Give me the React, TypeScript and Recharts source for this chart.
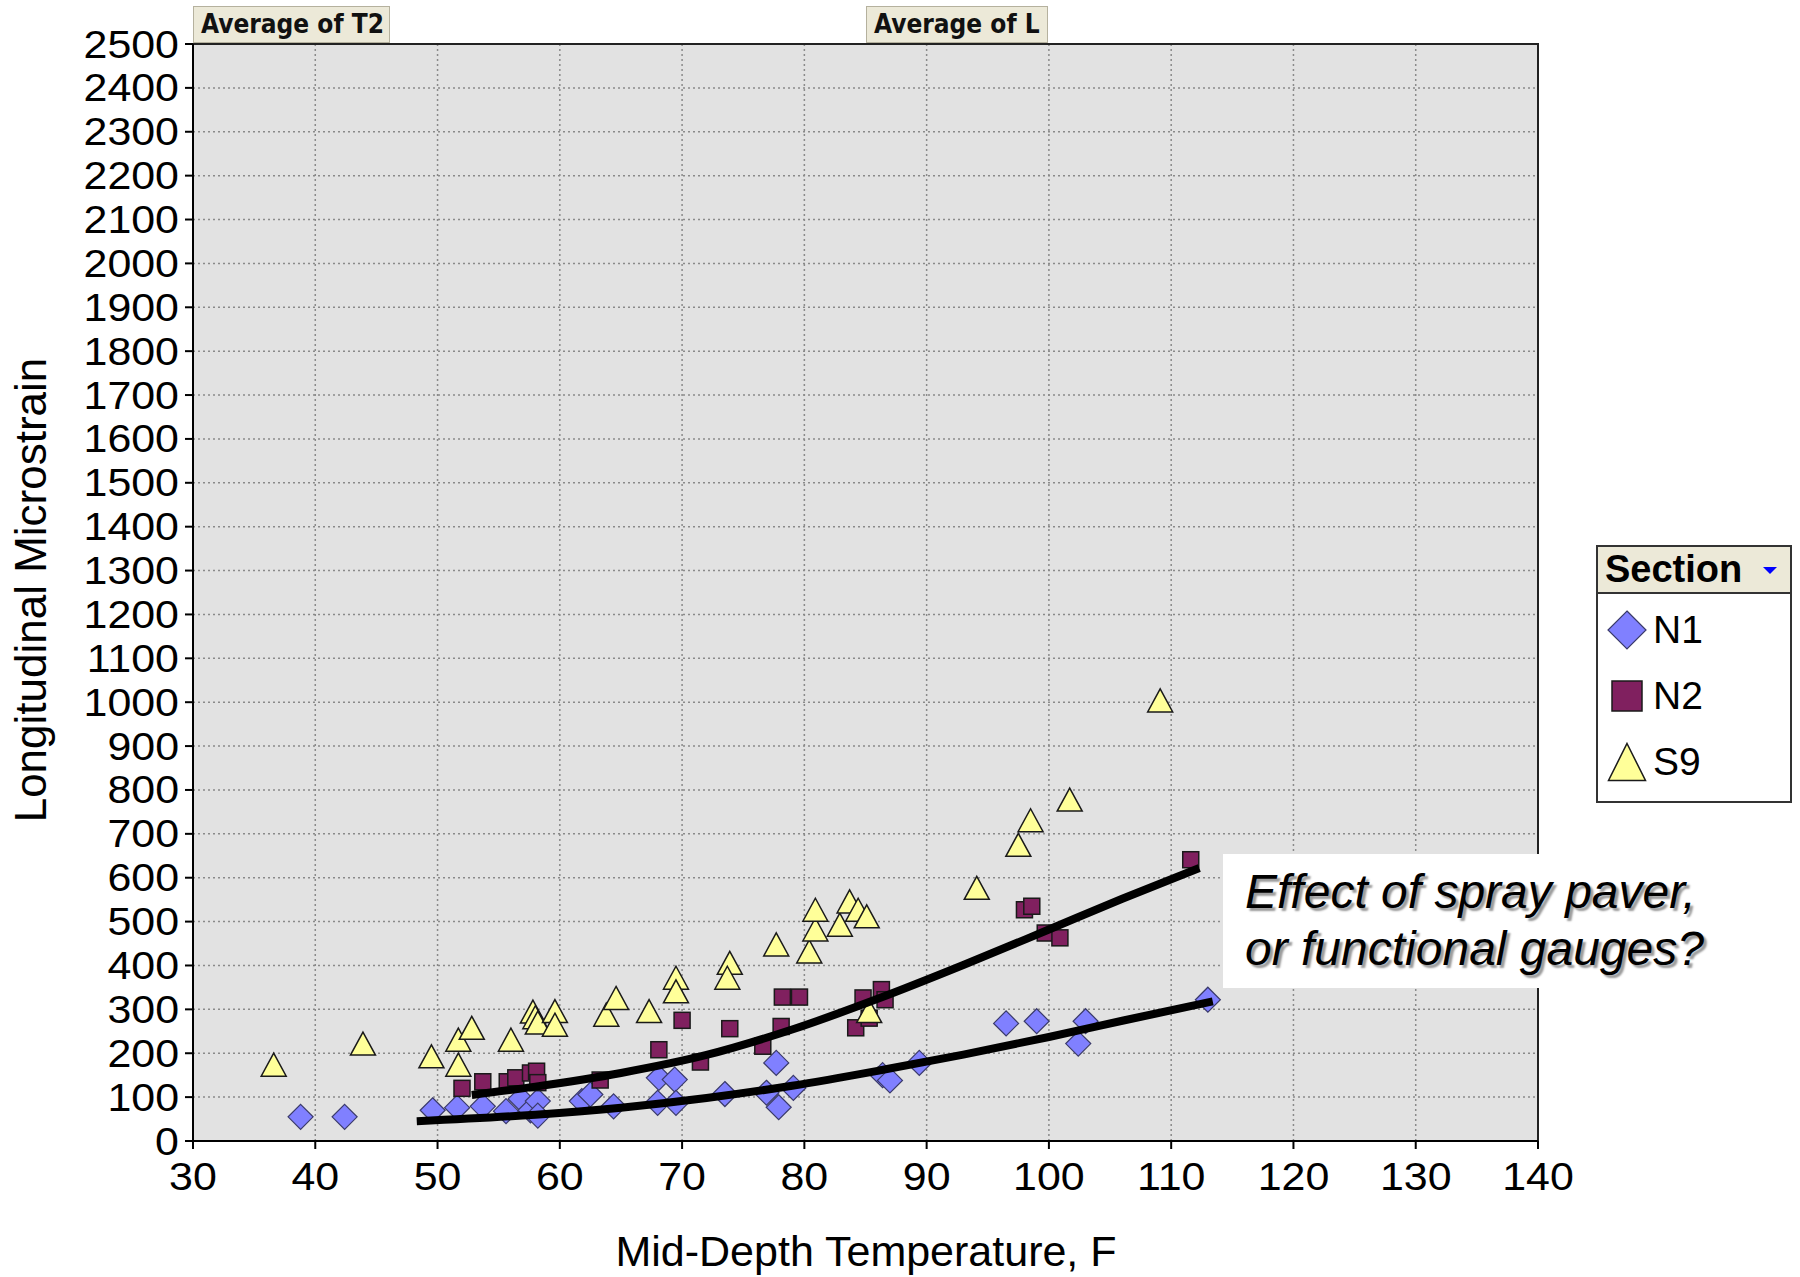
import React from "react";
import {
  ScatterChart,
  Scatter,
  XAxis,
  YAxis,
  CartesianGrid,
  ReferenceArea,
  Legend,
} from "recharts";

// values: temperature (F) / longitudinal microstrain
const N1_TEMP = [38.8, 42.4, 49.6, 51.6, 53.7, 55.6, 56.8, 57.6, 58.2, 58.2, 61.8, 62.5, 64.4, 68.1, 69.4, 68.0, 69.5, 73.5, 76.9, 77.7, 77.9, 79.1, 86.4, 87.0, 89.4, 96.5, 99.0, 103.0, 102.4, 113.0];
const N1_STRAIN = [55, 55, 70, 76, 79, 68, 96, 70, 91, 58, 91, 106, 79, 144, 140, 87, 87, 107, 110, 178, 77, 121, 150, 138, 178, 268, 273, 273, 222, 322];

const N2_TEMP = [52.0, 53.7, 55.7, 56.4, 57.6, 58.1, 58.2, 63.3, 68.1, 70.0, 71.5, 73.9, 76.6, 78.1, 78.2, 79.6, 84.2, 84.8, 85.3, 86.3, 86.6, 98.0, 98.6, 99.7, 100.9, 111.6];
const N2_STRAIN = [120, 135, 135, 144, 155, 159, 133, 139, 208, 275, 180, 256, 216, 261, 328, 328, 258, 326, 280, 345, 322, 527, 535, 474, 463, 641];

const S9_TEMP = [36.6, 43.9, 49.5, 51.7, 51.7, 52.8, 56.0, 57.8, 58.0, 58.2, 59.6, 59.6, 63.8, 64.6, 67.3, 69.5, 69.5, 73.9, 73.7, 77.7, 80.4, 80.9, 80.9, 82.9, 83.7, 84.4, 85.1, 85.3, 94.1, 97.5, 98.5, 101.7, 109.1];
const S9_STRAIN = [174, 222, 193, 174, 231, 258, 231, 295, 282, 270, 296, 265, 288, 326, 296, 372, 341, 406, 372, 448, 432, 482, 527, 493, 546, 527, 512, 296, 577, 675, 731, 778, 1004];

// hand-drawn trend curves
const UPPER_TEMP = [52.8, 58, 65, 72, 79, 86, 93, 100, 106, 112.3];
const UPPER_STRAIN = [105, 124, 155, 196, 254, 324, 401, 482, 552, 622];
const LOWER_TEMP = [48.3, 58, 65, 72, 79, 86, 93, 100, 106, 113.4];
const LOWER_STRAIN = [45, 60, 76, 98, 126, 160, 197, 237, 274, 318];

const X_TICKS = [30, 40, 50, 60, 70, 80, 90, 100, 110, 120, 130, 140];
const Y_TICKS = Array.from({ length: 26 }, (_, i) => i * 100);

const SERIES = ["N1", "N2", "S9"];
const N1_FILL = "#8080FF";
const N2_FILL = "#80205F";
const S9_FILL = "#FFFF99";

const FONT = "'Liberation Sans', Arial, sans-serif";

const toPoints = (xs: number[], ys: number[]) => xs.map((x, i) => ({ x, y: ys[i] }));

// the source image is slightly stretched sideways, so tick text gets a horizontal scale
function WideTick({ x, y, payload, anchor, dy }: any) {
  return (
    <text
      transform={`translate(${x},${y}) scale(1.13,1)`}
      textAnchor={anchor}
      dy={dy}
      fontSize={38}
      fontFamily={FONT}
      fill="#000"
    >
      {payload.value}
    </text>
  );
}

function Diamond({ cx, cy, r = 12.5 }: any) {
  return (
    <polygon
      points={`${cx},${cy - r} ${cx + r},${cy} ${cx},${cy + r} ${cx - r},${cy}`}
      fill={N1_FILL}
      stroke="#3a3a6a"
      strokeWidth={1.2}
    />
  );
}

function Square({ cx, cy, s = 16 }: any) {
  return <rect x={cx - s / 2} y={cy - s / 2} width={s} height={s} fill={N2_FILL} stroke="#1a1a1a" strokeWidth={1.5} />;
}

function Triangle({ cx, cy, w = 25, h = 23 }: any) {
  return (
    <polygon
      points={`${cx},${cy - h / 2} ${cx + w / 2},${cy + h / 2} ${cx - w / 2},${cy + h / 2}`}
      fill={S9_FILL}
      stroke="#1a1a1a"
      strokeWidth={1.5}
    />
  );
}

function NoDot() {
  return <g />;
}

function XTitle() {
  return (
    <text x={866} y={1266} textAnchor="middle" fontSize={43} fontFamily={FONT} fill="#000">
      Mid-Depth Temperature, F
    </text>
  );
}

function YTitle() {
  return (
    <text
      x={46}
      y={590}
      textAnchor="middle"
      fontSize={44}
      fontFamily={FONT}
      fill="#000"
      transform="rotate(-90, 46, 590)"
    >
      Longitudinal Microstrain
    </text>
  );
}

function LegendBox() {
  const rows = [83, 149, 215];
  return (
    <div
      style={{
        width: 196,
        height: 258,
        boxSizing: "border-box",
        border: "2px solid #333",
        background: "#fff",
        fontFamily: FONT,
        position: "relative",
      }}
    >
      <div
        style={{
          height: 47,
          background: "#ECE9D8",
          borderBottom: "2px solid #333",
          boxSizing: "border-box",
          fontWeight: "bold",
          fontSize: 38,
          lineHeight: "45px",
          paddingLeft: 7,
          position: "relative",
        }}
      >
        Section
        <svg width={14} height={8} style={{ position: "absolute", left: 165, top: 20 }}>
          <polygon points="0,0 14,0 7,7" fill="#0000FF" />
        </svg>
      </div>
      {SERIES.map((name, i) => (
        <div key={name} style={{ position: "absolute", left: 0, top: rows[i] - 24, height: 48, width: 190 }}>
          <svg width={48} height={48} style={{ position: "absolute", left: 5, top: 0 }}>
            {i === 0 && <Diamond cx={24} cy={24} r={19} />}
            {i === 1 && <Square cx={24} cy={24} s={30} />}
            {i === 2 && <Triangle cx={24} cy={24} w={37} h={37} />}
          </svg>
          <span style={{ position: "absolute", left: 55, top: 0, fontSize: 39, lineHeight: "48px" }}>{name}</span>
        </div>
      ))}
    </div>
  );
}

const buttonStyle: React.CSSProperties = {
  position: "absolute",
  top: 6,
  height: 37,
  boxSizing: "border-box",
  background: "#ECE9D8",
  border: "1px solid #B5B19E",
  fontFamily: "'DejaVu Sans Condensed', 'DejaVu Sans', sans-serif",
  fontWeight: "bold",
  fontSize: 26,
  lineHeight: "35px",
  paddingLeft: 7,
  color: "#111",
  whiteSpace: "nowrap",
};

export default function App() {
  const n1 = toPoints(N1_TEMP, N1_STRAIN);
  const n2 = toPoints(N2_TEMP, N2_STRAIN);
  const s9 = toPoints(S9_TEMP, S9_STRAIN);
  const upper = toPoints(UPPER_TEMP, UPPER_STRAIN);
  const lower = toPoints(LOWER_TEMP, LOWER_STRAIN);

  return (
    <div style={{ position: "absolute", left: 0, top: 0, width: 1800, height: 1277, background: "#fff" }}>
      <ScatterChart width={1800} height={1277} margin={{ top: 44, right: 262, bottom: 0, left: 83 }}>
        <CartesianGrid fill="#E2E2E2" stroke="#8a8a8a" strokeDasharray="2 3" strokeWidth={1.5} />
        <XAxis
          type="number"
          dataKey="x"
          domain={[30, 140]}
          ticks={X_TICKS}
          interval={0}
          height={136}
          tick={(p: any) => <WideTick {...p} anchor="middle" dy="0.71em" />}
          tickSize={8}
          tickMargin={14}
          axisLine={{ stroke: "#000", strokeWidth: 2 }}
          tickLine={{ stroke: "#000", strokeWidth: 2 }}
          label={<XTitle />}
        />
        <YAxis
          type="number"
          dataKey="y"
          domain={[0, 2500]}
          ticks={Y_TICKS}
          interval={0}
          width={110}
          tick={(p: any) => <WideTick {...p} anchor="end" dy="0.355em" />}
          tickSize={8}
          tickMargin={6}
          axisLine={{ stroke: "#000", strokeWidth: 2 }}
          tickLine={{ stroke: "#000", strokeWidth: 2 }}
          label={<YTitle />}
        />
        <ReferenceArea x1={30} x2={140} y1={0} y2={2500} fill="none" stroke="#222" strokeWidth={2} />
        <Scatter name="N1" data={n1} shape={(p: any) => <Diamond cx={p.cx} cy={p.cy} />} isAnimationActive={false} />
        <Scatter name="N2" data={n2} shape={(p: any) => <Square cx={p.cx} cy={p.cy} />} isAnimationActive={false} />
        <Scatter name="S9" data={s9} shape={(p: any) => <Triangle cx={p.cx} cy={p.cy} />} isAnimationActive={false} />
        <Scatter
          data={upper}
          line={{ stroke: "#000", strokeWidth: 8 }}
          lineJointType="monotoneX"
          shape={NoDot}
          legendType="none"
          isAnimationActive={false}
        />
        <Scatter
          data={lower}
          line={{ stroke: "#000", strokeWidth: 8 }}
          lineJointType="monotoneX"
          shape={NoDot}
          legendType="none"
          isAnimationActive={false}
        />
        <Legend
          layout="horizontal"
          verticalAlign="middle"
          align="center"
          wrapperStyle={{ left: 1596, top: 545, width: 196, height: 258 }}
          content={() => <LegendBox />}
        />
      </ScatterChart>

      <div style={{ ...buttonStyle, left: 193, width: 197 }}>Average of T2</div>
      <div style={{ ...buttonStyle, left: 866, width: 182 }}>Average of L</div>

      <div
        style={{
          position: "absolute",
          left: 1223,
          top: 854,
          width: 500,
          height: 134,
          background: "#fff",
          boxSizing: "border-box",
          paddingLeft: 22,
          paddingTop: 9,
          fontFamily: FONT,
          fontStyle: "italic",
          fontSize: 48,
          lineHeight: "57px",
          color: "#000",
          textShadow: "3px 3px 2px #9a9a9a",
          whiteSpace: "nowrap",
        }}
      >
        Effect of spray paver,
        <br />
        or functional gauges?
      </div>
    </div>
  );
}
